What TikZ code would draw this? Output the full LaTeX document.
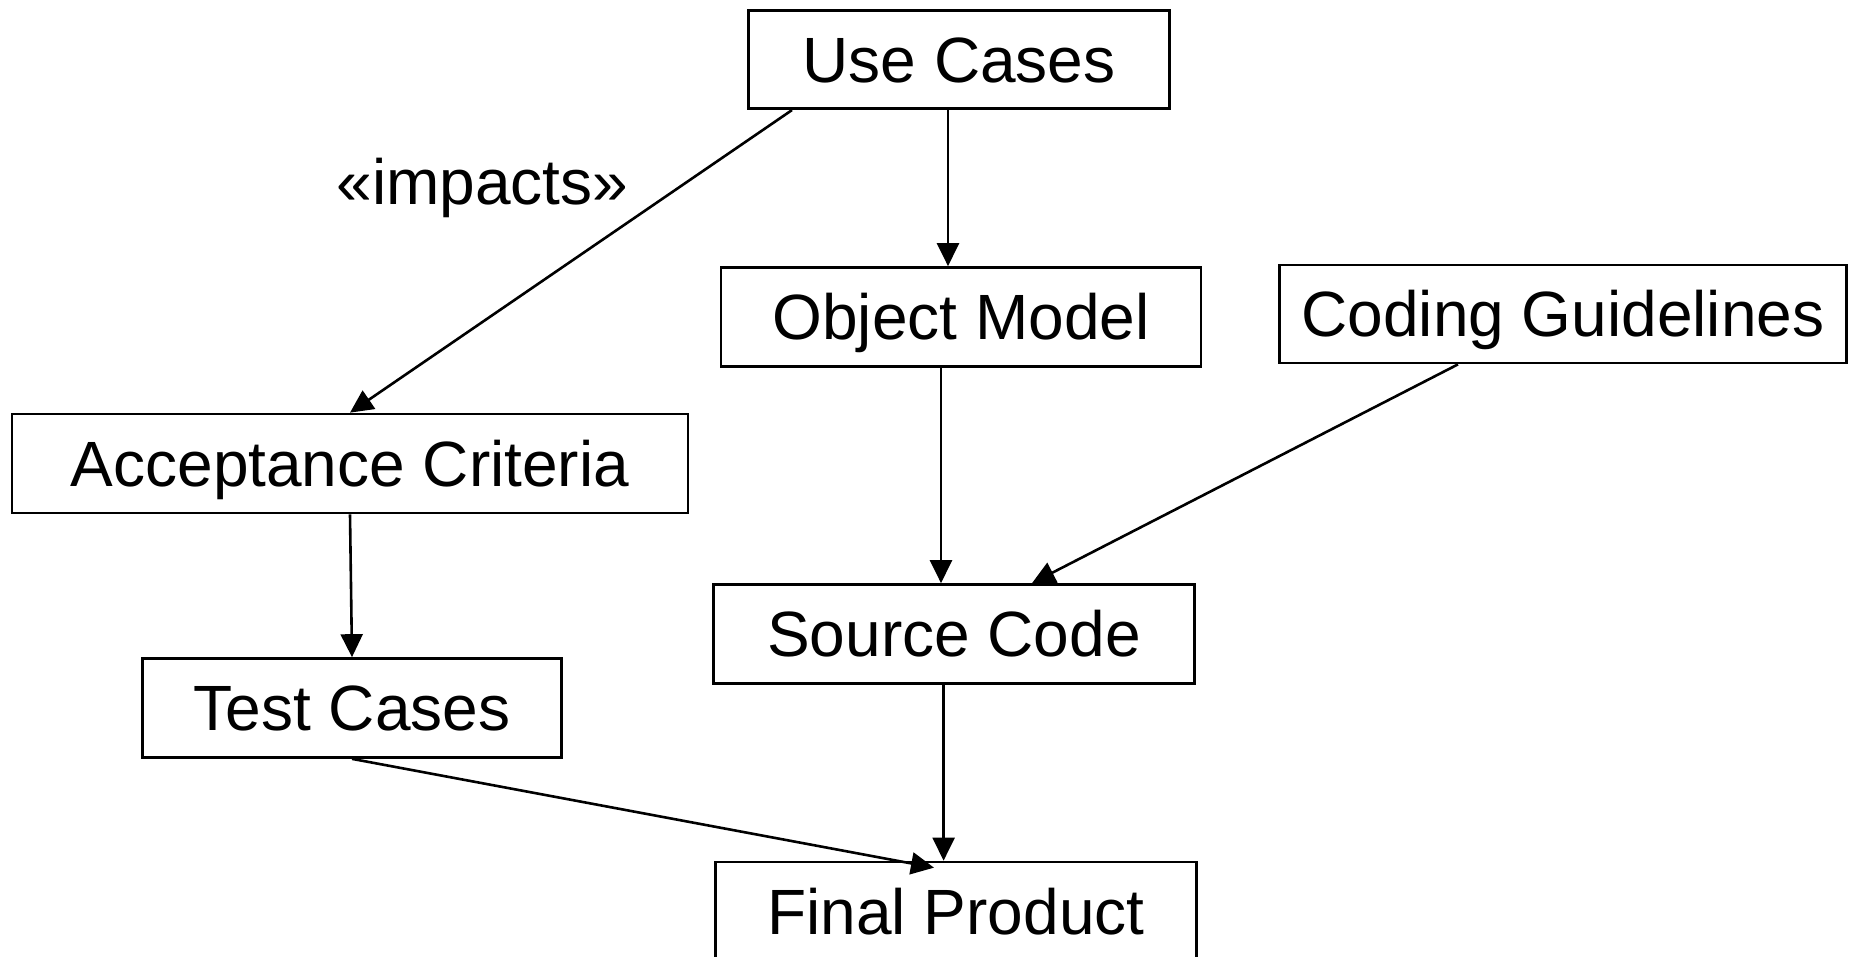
\documentclass[tikz,border=0pt]{standalone}
\usepackage{fontspec}
\setmainfont{Liberation Sans}
\usetikzlibrary{arrows.meta,calc}

\begin{document}
\begin{tikzpicture}[x=1pt,y=-1pt,
  box/.style={draw=black,line width=2.7pt,inner sep=0pt,
    text height=45.8pt,text depth=0pt,
    font=\fontsize{64}{72}\selectfont},
  flow/.style={draw=black,line width=2.6pt,
    -{Triangle[length=23pt,width=22pt]}},
  tag/.style={font=\fontsize{64}{72}\selectfont,inner sep=0pt}]
  \useasboundingbox (0,0) rectangle (1854,957);

  % artefacts
  \node[box,minimum width=421pt,minimum height=98pt] (uc) at (959,59.7) {Use Cases};
  \node[box,minimum width=480pt,minimum height=99pt] (om) at (961,317) {Object Model};
  \node[box,minimum width=567pt,minimum height=98pt] (cg) at (1563,314) {Coding Guidelines};
  \node[box,minimum width=676pt,minimum height=99pt] (ac) at (350,463.5) {Acceptance Criteria};
  \node[box,minimum width=419pt,minimum height=99pt] (tc) at (352,708) {Test Cases};
  \node[box,minimum width=481pt,minimum height=99pt] (sc) at (954,634) {Source Code};
  \node[box,minimum width=481pt,minimum height=99pt] (fp) at (956,911.5) {Final Product};

  % stereotype label
  \node[tag,anchor=base] (impacts) at (482.5,205) {«impacts»};

  % dependencies
  \draw[flow] (948,0 |- uc.south) -- (948,0 |- om.north);
  \draw[flow] (792,0 |- uc.south) -- (ac.north);
  \draw[flow] (941,0 |- om.south) -- (941,0 |- sc.north);
  \draw[flow] (1458,0 |- cg.south) -- (1032,0 |- sc.north);
  \draw[flow] (ac.south) -- (tc.north);
  \draw[flow] (943.6,0 |- sc.south) -- (943.6,0 |- fp.north);
  \draw[flow] (tc.south) -- ($(fp.north)+(-22,7)$);
\end{tikzpicture}
\end{document}
